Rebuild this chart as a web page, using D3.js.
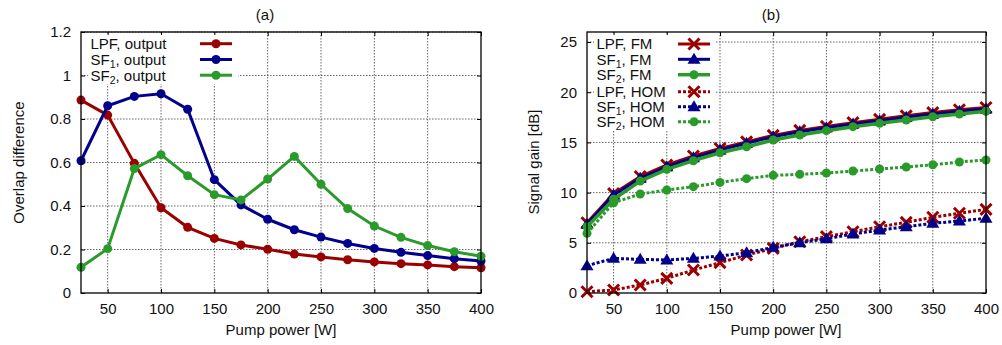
<!DOCTYPE html>
<html>
<head>
<meta charset="utf-8">
<script src="https://cdn.jsdelivr.net/npm/d3@7"></script>
<style>
    body { margin: 0; background: #fff; }
    svg { display: block; }
    text { font-family: "Liberation Sans", Arial, Helvetica, sans-serif; fill: #111; }
    .axis text { font-size: 15px; }
</style>
</head>
<body>
<svg id="chart" width="1002" height="345"></svg>
<script>
//  pump power, shared by both panels
const powers = [25, 50, 75, 100, 125, 150, 175, 200, 225, 250, 275, 300, 325, 350, 375, 400];

//  (a) overlap difference
const lpfOutput = [0.887, 0.818, 0.596, 0.392, 0.302, 0.251, 0.221, 0.201, 0.179, 0.166, 0.153, 0.143, 0.135, 0.129, 0.121, 0.116];
const sf1Output = [0.608, 0.861, 0.904, 0.916, 0.845, 0.521, 0.405, 0.339, 0.291, 0.257, 0.228, 0.205, 0.187, 0.172, 0.158, 0.147];
const sf2Output = [0.118, 0.204, 0.572, 0.636, 0.539, 0.452, 0.428, 0.524, 0.628, 0.500, 0.388, 0.308, 0.256, 0.218, 0.190, 0.169];

//  (b) signal gain [dB]
const lpfFM  = [7.0, 9.9, 11.6, 12.75, 13.65, 14.4, 15.05, 15.7, 16.2, 16.6, 16.97, 17.3, 17.65, 17.97, 18.25, 18.48];
const sf1FM  = [6.85, 9.76, 11.42, 12.58, 13.48, 14.24, 14.91, 15.57, 16.07, 16.47, 16.83, 17.16, 17.5, 17.83, 18.1, 18.33];
const sf2FM  = [6.6, 9.33, 11.15, 12.32, 13.18, 13.97, 14.57, 15.24, 15.74, 16.17, 16.57, 16.9, 17.23, 17.56, 17.83, 18.1];
const lpfHOM = [0.13, 0.3, 0.8, 1.46, 2.29, 3.02, 3.78, 4.45, 5.11, 5.61, 6.1, 6.6, 7.04, 7.54, 7.94, 8.33];
const sf1HOM = [2.72, 3.45, 3.35, 3.29, 3.45, 3.68, 4.01, 4.55, 5.0, 5.4, 5.88, 6.27, 6.6, 6.94, 7.17, 7.44];
const sf2HOM = [5.94, 8.99, 9.86, 10.26, 10.59, 11.02, 11.39, 11.72, 11.82, 11.95, 12.15, 12.35, 12.55, 12.78, 13.05, 13.25];

//  ticks
const xTicks = [50, 100, 150, 200, 250, 300, 350, 400];
const yTicksA = [0, 0.2, 0.4, 0.6, 0.8, 1, 1.2];
const yTicksB = [0, 5, 10, 15, 20, 25];

//  legend labels: [main, subscript, rest]
const legendA = [["LPF", "", ", output"], ["SF", "1", ", output"], ["SF", "2", ", output"]];
const legendB = [["LPF", "", ", FM"], ["SF", "1", ", FM"], ["SF", "2", ", FM"],
                 ["LPF", "", ", HOM"], ["SF", "1", ", HOM"], ["SF", "2", ", HOM"]];

const RED = "#9a0000", BLUE = "#00008c", GREEN = "#2a9a2a";

const svg = d3.select("#chart");

//  panel geometry
const plotTop = 32, plotBottom = 293;
const xa = d3.scaleLinear([25, 400], [81, 481]);
const ya = d3.scaleLinear([0, 1.2], [plotBottom, plotTop]);
const xb = d3.scaleLinear([25, 400], [587, 986]);
const yb = d3.scaleLinear([0, 26], [plotBottom, plotTop]);

const fmtA = d => d === 0 ? "0" : String(+d.toFixed(1));

function drawFrame(x, y, yTicks, yFmt) {
    const g = svg.append("g");
    const [x0, x1] = x.range();

    //  dotted grid
    g.selectAll(null).data(xTicks.filter(t => t < 400)).join("line")
        .attr("x1", d => x(d)).attr("x2", d => x(d)).attr("y1", plotTop).attr("y2", plotBottom)
        .attr("stroke", "#666").attr("stroke-width", 1).attr("stroke-dasharray", "1.5,1.5");
    g.selectAll(null).data(yTicks.filter(t => t > 0)).join("line")
        .attr("x1", x0).attr("x2", x1).attr("y1", d => y(d)).attr("y2", d => y(d))
        .attr("stroke", "#666").attr("stroke-width", 1).attr("stroke-dasharray", "1.5,1.5");

    //  axes, ticks pointing inward
    const bx = g.append("g").attr("class", "axis").attr("transform", `translate(0,${plotBottom})`)
        .call(d3.axisBottom(x).tickValues(xTicks).tickSizeInner(-4).tickSizeOuter(0).tickPadding(10));
    const tx = g.append("g").attr("class", "axis").attr("transform", `translate(0,${plotTop})`)
        .call(d3.axisTop(x).tickValues(xTicks).tickSizeInner(-4).tickSizeOuter(0).tickFormat(""));
    const ly = g.append("g").attr("class", "axis").attr("transform", `translate(${x0},0)`)
        .call(d3.axisLeft(y).tickValues(yTicks).tickFormat(yFmt).tickSizeInner(-4).tickSizeOuter(0).tickPadding(10));
    const ry = g.append("g").attr("class", "axis").attr("transform", `translate(${x1},0)`)
        .call(d3.axisRight(y).tickValues(yTicks).tickSizeInner(-4).tickSizeOuter(0).tickFormat(""));
    [bx, tx, ly, ry].forEach(a => {
        a.select(".domain").remove();
        a.selectAll("line").attr("stroke", "#000");
        a.selectAll("text").attr("fill", "#111");
    });
    return g;
}

function marker(g, type, cx, cy, color) {
    if (type === "circle") {
        g.append("circle").attr("cx", cx).attr("cy", cy).attr("r", 4.5).attr("fill", color);
    } else if (type === "x") {
        g.append("path").attr("d", `M${cx - 5.5},${cy - 5.5}L${cx + 5.5},${cy + 5.5}M${cx - 5.5},${cy + 5.5}L${cx + 5.5},${cy - 5.5}`)
            .attr("stroke", color).attr("stroke-width", 3).attr("fill", "none");
    } else {
        g.append("path").attr("d", `M${cx},${cy - 6.5}L${cx + 6.5},${cy + 4.5}L${cx - 6.5},${cy + 4.5}Z`)
            .attr("fill", color);
    }
}

function drawSeries(x, y, values, s) {
    const g = svg.append("g");
    const line = d3.line().x((d, i) => x(powers[i])).y(d => y(d));
    g.append("path").attr("d", line(values)).attr("fill", "none")
        .attr("stroke", s.color).attr("stroke-width", s.width)
        .attr("stroke-dasharray", s.dash ? "3,2" : null);
    values.forEach((v, i) => marker(g, s.type, x(powers[i]), y(v), s.color));
}

//  rows: baselines of each legend entry
function drawLegend(labels, styles, textX, lineX0, lineX1, rows, box) {
    svg.append("rect").attr("x", box[0]).attr("y", box[1]).attr("width", box[2]).attr("height", box[3]).attr("fill", "#fff");
    labels.forEach((lab, i) => {
        const by = rows[i];
        const t = svg.append("text").attr("x", textX).attr("y", by).attr("font-size", 15);
        t.append("tspan").text(lab[0]);
        if (lab[1]) {
            t.append("tspan").attr("font-size", 10.5).attr("dy", 3).text(lab[1]);
            t.append("tspan").attr("dy", -3).text(lab[2]);
        } else {
            t.append("tspan").text(lab[2]);
        }
        const s = styles[i], ly = by - 5.3;
        const g = svg.append("g");
        g.append("line").attr("x1", lineX0).attr("x2", lineX1).attr("y1", ly).attr("y2", ly)
            .attr("stroke", s.color).attr("stroke-width", s.width).attr("stroke-dasharray", s.dash ? "3,2" : null);
        marker(g, s.type, (lineX0 + lineX1) / 2, ly, s.color);
    });
}

//  ---- panel (a)
drawFrame(xa, ya, yTicksA, fmtA);
const stylesA = [
    {color: RED, type: "circle", width: 3},
    {color: BLUE, type: "circle", width: 3},
    {color: GREEN, type: "circle", width: 3}
];
drawLegend(legendA, stylesA, 90.5, 200, 232, [49, 64.8, 80.5], [88, 35, 150, 49]);
[lpfOutput, sf1Output, sf2Output].forEach((v, i) => drawSeries(xa, ya, v, stylesA[i]));

//  ---- panel (b)
drawFrame(xb, yb, yTicksB, d3.format("d"));
const stylesB = [
    {color: RED, type: "x", width: 3},
    {color: BLUE, type: "triangle", width: 3},
    {color: GREEN, type: "circle", width: 3.5},
    {color: RED, type: "x", width: 3, dash: true},
    {color: BLUE, type: "triangle", width: 3, dash: true},
    {color: GREEN, type: "circle", width: 3, dash: true}
];
drawLegend(legendB, stylesB, 596.5, 678, 710, [49.3, 64.6, 80, 97, 112, 127], [594, 35, 121, 95]);
[lpfFM, sf1FM, sf2FM, lpfHOM, sf1HOM, sf2HOM].forEach((v, i) => drawSeries(xb, yb, v, stylesB[i]));

//  borders
[[xa, ya], [xb, yb]].forEach(([x, y]) => {
    svg.append("rect").attr("x", x.range()[0]).attr("y", plotTop)
        .attr("width", x.range()[1] - x.range()[0]).attr("height", plotBottom - plotTop)
        .attr("fill", "none").attr("stroke", "#000").attr("stroke-width", 1.3);
});

//  titles and axis labels
svg.append("text").attr("x", 265).attr("y", 20).attr("text-anchor", "middle").attr("font-size", 15).text("(a)");
svg.append("text").attr("x", 771).attr("y", 20).attr("text-anchor", "middle").attr("font-size", 15).text("(b)");
svg.append("text").attr("x", 281).attr("y", 335).attr("text-anchor", "middle").attr("font-size", 15).text("Pump power [W]");
svg.append("text").attr("x", 786).attr("y", 335).attr("text-anchor", "middle").attr("font-size", 15).text("Pump power [W]");
svg.append("text").attr("transform", "translate(24,162.5) rotate(-90)").attr("text-anchor", "middle").attr("font-size", 15).text("Overlap difference");
svg.append("text").attr("transform", "translate(539,162) rotate(-90)").attr("text-anchor", "middle").attr("font-size", 15).text("Signal gain [dB]");
</script>
</body>
</html>
